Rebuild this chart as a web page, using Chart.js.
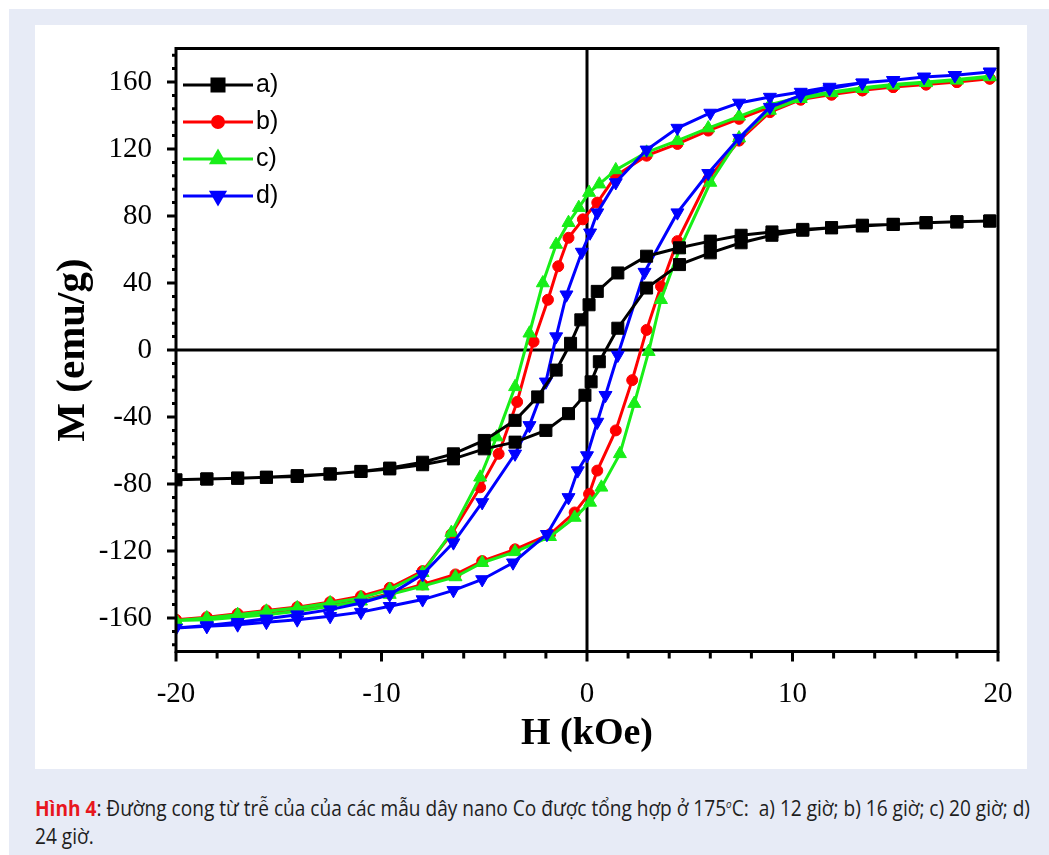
<!DOCTYPE html>
<html>
<head>
<meta charset="utf-8">
<script src="https://cdn.jsdelivr.net/npm/chart.js@4.4.0/dist/chart.umd.min.js"></script>
<style>
  html, body { margin: 0; padding: 0; background: #fff; }
  #frame { position: absolute; left: 9px; top: 9px; width: 1040px; height: 846px; background: #e7ebf6; }
  #panel { position: absolute; left: 35px; top: 25px; width: 992px; height: 744px; background: #fff; }
  #caption { position: absolute; left: 35px; top: 790px; white-space: nowrap; transform-origin: 0 0;
    font-family: "Open Sans", sans-serif; font-size: 21px; line-height: 28px; color: #1e1e1e; }
  #caption b { color: #e8161e; }
  #caption sup { font-size: 11px; font-style: italic; }
</style>
</head>
<body>
<div id="frame"></div>
<div id="panel"><canvas id="chart" width="992" height="744"></canvas></div>
<div id="caption"><span id="line1"><b>Hình 4</b>: Đường cong từ trễ của của các mẫu dây nano Co được tổng hợp ở 175<sup>o</sup>C:&nbsp; a) 12 giờ; b) 16 giờ; c) 20 giờ; d)</span><br>24 giờ.</div>
<script>
// tick labels
var xTicks = [-20, -10, 0, 10, 20];
var yTicks = [-160, -120, -80, -40, 0, 40, 80, 120, 160];
var seriesLabels = ['a)', 'b)', 'c)', 'd)'];

// a) 12h : field (kOe) and M (emu/g), descending branch then ascending branch
var aH = [19.6, 18.0, 16.5, 14.9, 13.4, 11.9, 10.5, 9.0, 7.5, 6.0, 4.5, 2.9, 1.5, 0.5, 0.1, -0.3, -0.8, -1.5, -2.4, -3.5, -5.0, -6.5, -8.0, -9.6, -11.0, -12.5, -14.1, -15.6, -17.0, -18.5, -20.0,
          -18.5, -17.0, -15.6, -14.1, -12.5, -11.0, -9.6, -8.0, -6.5, -5.0, -3.5, -2.0, -0.9, -0.1, 0.2, 0.6, 1.5, 2.9, 4.5, 6.0, 7.5, 9.0, 10.5, 11.9, 13.4, 14.9, 16.5, 18.0, 19.6];
var aM = [77, 76.5, 76, 75, 74.5, 73, 72, 70.5, 68.5, 65, 61, 56, 46, 35, 27, 18, 4, -12, -28, -42, -54, -62, -67, -70.5, -72.5, -74, -75.5, -76, -76.5, -77, -77.5,
          -77, -76.5, -76, -75, -74, -72.5, -71, -68.5, -65, -59, -55, -48, -38, -27, -19, -7, 13, 37, 51, 58, 64, 68.5, 71.5, 73, 74, 75, 76, 76.5, 77];

// b) 16h
var bH = [19.6, 18.0, 16.5, 14.9, 13.4, 11.9, 10.4, 8.9, 7.4, 5.9, 4.4, 2.9, 1.4, 0.5, -0.2, -0.9, -1.4, -1.9, -2.6, -3.4, -4.3, -5.2, -6.6, -8.0, -9.6, -11.0, -12.5, -14.1, -15.6, -17.0, -18.5, -20.0,
          -18.5, -17.0, -15.6, -14.1, -12.5, -11.0, -9.6, -8.0, -6.4, -5.1, -3.5, -1.8, -0.6, 0.1, 0.5, 1.4, 2.2, 2.9, 3.6, 4.4, 5.9, 7.4, 8.9, 10.4, 11.9, 13.4, 14.9, 16.5, 18.0, 19.6];
var bM = [162, 160, 158.5, 157, 155, 152.5, 149.5, 145, 138, 131, 123, 116, 104, 88, 78, 67, 50, 30, 5, -31, -62, -82, -110, -132, -142, -147, -150.5, -153.5, -155.5, -157.5, -159.5, -161,
          -160.5, -159, -157.5, -155.5, -152.5, -149.5, -145.5, -140, -134, -126, -119, -110, -97, -86, -72, -48, -18, 12, 38, 65, 102, 125, 142, 149.5, 152.5, 155, 157, 158.5, 160, 162];

// c) 20h
var cH = [19.6, 18.0, 16.5, 14.9, 13.4, 11.9, 10.4, 8.9, 7.4, 5.9, 4.4, 2.9, 1.4, 0.6, 0.1, -0.4, -0.9, -1.5, -2.15, -2.8, -3.5, -4.4, -5.2, -6.6, -8.0, -9.6, -11.0, -12.5, -14.1, -15.6, -17.0, -18.5, -20.0,
          -18.5, -17.0, -15.6, -14.1, -12.5, -11.0, -9.6, -8.0, -6.4, -5.1, -3.5, -1.8, -0.6, 0.15, 0.7, 1.6, 2.3, 3.0, 3.6, 4.5, 6.0, 7.4, 8.9, 10.4, 11.9, 13.4, 14.9, 16.5, 18.0, 19.6];
var cM = [163.5, 161.5, 160, 158.5, 156.5, 154, 151, 146.5, 139.5, 132.5, 125, 118, 107.5, 99, 94, 85, 76, 63, 40, 10, -22, -52, -76, -109, -133, -143, -148, -151, -154, -156, -158, -160, -161.5,
          -161, -159.5, -158, -156, -153, -150, -146, -141, -135.5, -127, -120.5, -111.5, -100, -91, -82, -62, -32, -1, 30, 60, 100, 126.5, 143, 150, 153.5, 156, 158, 159.5, 161, 163];

// d) 24h
var dH = [19.6, 17.9, 16.4, 14.9, 13.4, 11.8, 10.4, 8.9, 7.4, 6.0, 4.4, 2.9, 1.4, 0.5, 0.15, -0.25, -1.0, -1.5, -2.0, -2.8, -3.5, -5.1, -6.5, -8.0, -9.6, -11.0, -12.5, -14.1, -15.6, -17.0, -18.5, -20.0,
          -18.5, -17.0, -15.6, -14.1, -12.5, -11.0, -9.6, -8.0, -6.5, -5.1, -3.6, -1.95, -0.9, -0.45, 0.0, 0.5, 0.9, 1.5, 2.8, 4.4, 5.9, 7.4, 8.9, 10.4, 11.8, 13.4, 14.9, 16.4, 17.9, 19.6];
var dM = [166, 164, 163, 161, 159.5, 157, 154, 151, 147.5, 141.5, 132.5, 119.5, 100, 82, 70, 58.5, 33, 8, -19, -45, -62, -91, -115, -134, -146, -151, -155, -158, -160.5, -162.5, -164.5, -166,
          -165, -164, -162.5, -161, -159, -156.5, -153, -149, -143.5, -137, -127, -110, -88, -72, -63, -43, -27, -3, 46.5, 82, 105.5, 126.5, 145, 152, 156, 159.5, 161, 163, 164, 166];

var serif = '"Liberation Serif", "Times New Roman", serif';

function toPoints(hs, ms) {
  return hs.map(function (h, i) { return { x: h, y: ms[i] }; });
}

function series(label, hs, ms, color, style, radius, rotation, order) {
  return {
    label: label,
    data: toPoints(hs, ms),
    showLine: true,
    borderColor: color,
    backgroundColor: color,
    borderWidth: 3,
    pointStyle: style,
    pointRadius: radius,
    pointRotation: rotation,
    pointBorderWidth: 1,
    pointBorderColor: color,
    pointBackgroundColor: color,
    order: order
  };
}

var datasets = [
  series(seriesLabels[0], aH, aM, '#000000', 'rect', 8.5, 0, 0),
  series(seriesLabels[1], bH, bM, '#ff0000', 'circle', 5.5, 0, 3),
  series(seriesLabels[2], cH, cM, '#18ee18', 'triangle', 7.5, 0, 2),
  series(seriesLabels[3], dH, dM, '#0000ff', 'triangle', 7.5, 180, 1)
];

// no label overhang padding, so the plot area sits exactly where layout puts it
function noOverhang(s) {
  s.paddingLeft = 0; s.paddingRight = 0; s.paddingTop = 0; s.paddingBottom = 0;
}

var axesPlugin = {
  id: 'axesFrame',
  beforeDatasetsDraw: function (chart) {
    var ctx = chart.ctx, a = chart.chartArea;
    var x0 = chart.scales.x.getPixelForValue(0);
    var y0 = chart.scales.y.getPixelForValue(0);
    ctx.save();
    ctx.strokeStyle = '#000';
    ctx.lineWidth = 3;
    ctx.beginPath();
    ctx.moveTo(x0, a.top); ctx.lineTo(x0, a.bottom);
    ctx.moveTo(a.left, y0); ctx.lineTo(a.right, y0);
    ctx.stroke();
    ctx.restore();
  },
  afterDraw: function (chart) {
    var ctx = chart.ctx, a = chart.chartArea;
    var sx = chart.scales.x, sy = chart.scales.y;
    ctx.save();
    ctx.strokeStyle = '#000';
    ctx.lineWidth = 3;
    ctx.strokeRect(a.left, a.top, a.right - a.left, a.bottom - a.top);
    ctx.beginPath();
    // x ticks: major every 10, minor every 2
    for (var v = -20; v <= 20; v += 2) {
      var px = sx.getPixelForValue(v);
      var len = (v % 10 === 0) ? 10 : 7;
      ctx.moveTo(px, a.bottom); ctx.lineTo(px, a.bottom + len);
    }
    // y ticks: major every 40, minor every 8
    for (var m = -176; m <= 176; m += 8) {
      var py = sy.getPixelForValue(m);
      var l = (m % 40 === 0) ? 9 : 4;
      ctx.moveTo(a.left, py); ctx.lineTo(a.left - l, py);
    }
    ctx.stroke();
    ctx.restore();
  }
};

var legendPlugin = {
  id: 'lineLegend',
  afterDraw: function (chart) {
    var ctx = chart.ctx, a = chart.chartArea;
    ctx.save();
    chart.data.datasets.forEach(function (ds, i) {
      var y = a.top + 36.5 + 37 * i;
      ctx.strokeStyle = ds.borderColor;
      ctx.fillStyle = ds.borderColor;
      ctx.lineWidth = 3;
      ctx.beginPath();
      ctx.moveTo(a.left + 7, y); ctx.lineTo(a.left + 77, y);
      ctx.stroke();
      Chart.helpers.drawPoint(ctx, {
        pointStyle: ds.pointStyle, radius: ds.pointRadius, rotation: ds.pointRotation, borderWidth: 1
      }, a.left + 42, y);
      ctx.fillStyle = '#000';
      ctx.font = '25px "Liberation Sans", Arial, sans-serif';
      ctx.textBaseline = 'middle';
      ctx.fillText(ds.label, a.left + 80, y);
    });
    ctx.restore();
  }
};

new Chart(document.getElementById('chart'), {
  type: 'scatter',
  data: { datasets: datasets },
  options: {
    responsive: false,
    animation: false,
    devicePixelRatio: 1,
    layout: { padding: { top: 23.5, right: 29, left: 0, bottom: 0 } },
    plugins: { legend: { display: false }, tooltip: { enabled: false } },
    scales: {
      x: {
        type: 'linear', min: -20, max: 20,
        afterBuildTicks: function (s) { s.ticks = xTicks.map(function (v) { return { value: v }; }); },
        afterFit: function (s) { s.height = 117.5; noOverhang(s); },
        grid: { display: false, drawTicks: false },
        border: { display: false },
        ticks: { color: '#000', font: { family: serif, size: 29 }, padding: 25, maxRotation: 0, autoSkip: false },
        title: { display: true, text: 'H (kOe)', color: '#000', font: { family: serif, size: 38, weight: 'bold' }, padding: { top: 0, bottom: 12 } }
      },
      y: {
        type: 'linear', min: -180, max: 180,
        afterBuildTicks: function (s) { s.ticks = yTicks.map(function (v) { return { value: v }; }); },
        afterFit: function (s) { s.width = 141; noOverhang(s); },
        grid: { display: false, drawTicks: false },
        border: { display: false },
        ticks: { color: '#000', font: { family: serif, size: 29 }, padding: 24, autoSkip: false },
        title: { display: true, text: 'M (emu/g)', color: '#000', font: { family: serif, size: 41, weight: 'bold' }, padding: { top: 14, bottom: 0 } }
      }
    }
  },
  plugins: [axesPlugin, legendPlugin]
});

// fit caption's first line to the reference width
var cap = document.getElementById('caption');
var w = document.getElementById('line1').getBoundingClientRect().width;
cap.style.transform = 'scaleX(' + (995 / w) + ')';
</script>
</body>
</html>
